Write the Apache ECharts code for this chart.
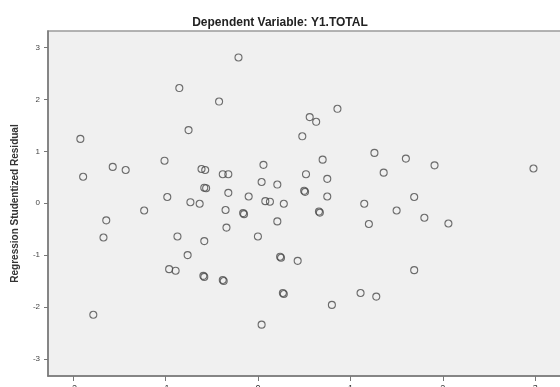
<!DOCTYPE html>
<html>
<head>
<meta charset="utf-8">
<script src="https://cdn.jsdelivr.net/npm/echarts@6/dist/echarts.min.js"></script>
<style>
  html, body { margin: 0; padding: 0; background: #fff; }
  #chart { width: 560px; height: 387px; }
</style>
</head>
<body>
<div id="chart"></div>
<script>
// Regression Standardized Predicted Value (x) vs Studentized Residual (y)
const predicted = [
  -1.92, -1.89, -0.85, -0.21, -0.42, -0.75, -1.57, -1.43, -1.01, -0.61,
  -0.57, -0.38, -0.32, 0.06, 0.04, -0.58, -0.56, -0.32, 0.21, -0.10,
  -0.98, -0.73, -0.63, -1.23, -1.64, -1.67, -0.87, -0.58, -0.35, -0.16,
  -0.15, -0.34, 0.08, 0.13, 0.21, 0.00, -0.76, -0.96, -0.89, -0.59,
  -0.58, -0.38, -0.37, -1.78, 0.04, 0.86, 0.56, 0.63, 0.48, 1.26,
  1.60, 1.91, 2.98, 0.70, 0.52, 0.75, 1.36, 0.50, 0.51, 0.75,
  1.69, 0.28, 0.66, 0.67, 1.15, 1.50, 1.80, 2.06, 1.20, 0.24,
  0.25, 0.43, 0.27, 0.28, 1.69, 1.11, 1.28, 0.80
];
const residual = [
  1.24, 0.51, 2.22, 2.81, 1.96, 1.41, 0.70, 0.64, 0.82, 0.66,
  0.64, 0.56, 0.56, 0.74, 0.41, 0.30, 0.29, 0.20, 0.36, 0.13,
  0.12, 0.02, -0.01, -0.14, -0.33, -0.66, -0.64, -0.73, -0.13, -0.19,
  -0.21, -0.47, 0.04, 0.03, -0.35, -0.64, -1.00, -1.27, -1.30, -1.40,
  -1.42, -1.48, -1.50, -2.15, -2.34, 1.82, 1.66, 1.57, 1.29, 0.97,
  0.86, 0.73, 0.67, 0.84, 0.56, 0.47, 0.59, 0.24, 0.22, 0.13,
  0.12, -0.01, -0.16, -0.18, -0.01, -0.14, -0.28, -0.39, -0.40, -1.03,
  -1.05, -1.11, -1.73, -1.75, -1.29, -1.73, -1.80, -1.96
];
const xTicks = [-2, -1, 0, 1, 2, 3];
const yTicks = [-3, -2, -1, 0, 1, 2, 3];

const points = predicted.map((x, i) => [x, residual[i]]);

const chart = echarts.init(document.getElementById('chart'));
chart.setOption({
  animation: false,
  title: {
    text: 'Dependent Variable: Y1.TOTAL',
    left: 'center',
    top: 12,
    textStyle: { fontFamily: 'Liberation Sans', fontSize: 12, fontWeight: 'bold', color: '#222' }
  },
  grid: {
    left: 48, right: -4, top: 31, bottom: 11,
    outerBoundsMode: 'none',
    show: true, backgroundColor: '#f0f0f0', borderColor: '#9a9a9a', borderWidth: 1.5
  },
  xAxis: {
    type: 'value',
    min: -2.27, max: 3.31,
    splitLine: { show: false },
    axisLine: { onZero: false, lineStyle: { color: '#777', width: 1.5 } },
    axisTick: { length: 5, customValues: xTicks, lineStyle: { color: '#777' } },
    axisLabel: {
      margin: 8, fontSize: 9, color: '#333', fontFamily: 'Liberation Sans',
      customValues: xTicks
    }
  },
  yAxis: {
    type: 'value',
    min: -3.33, max: 3.32,
    name: 'Regression Studentized Residual',
    nameLocation: 'middle',
    nameGap: 28,
    nameTextStyle: { fontFamily: 'Liberation Sans', fontSize: 10, fontWeight: 'bold', color: '#333' },
    splitLine: { show: false },
    axisLine: { onZero: false, lineStyle: { color: '#777', width: 1.5 } },
    axisTick: { length: 4, customValues: yTicks, lineStyle: { color: '#777' } },
    axisLabel: {
      margin: 8, fontSize: 8, color: '#444', fontFamily: 'Liberation Sans',
      customValues: yTicks
    }
  },
  series: [{
    type: 'scatter',
    data: points,
    symbol: 'circle',
    symbolSize: 7,
    itemStyle: { color: 'rgba(0,0,0,0)', borderColor: '#4a4a4a', borderWidth: 1.1 }
  }]
});
</script>
</body>
</html>
